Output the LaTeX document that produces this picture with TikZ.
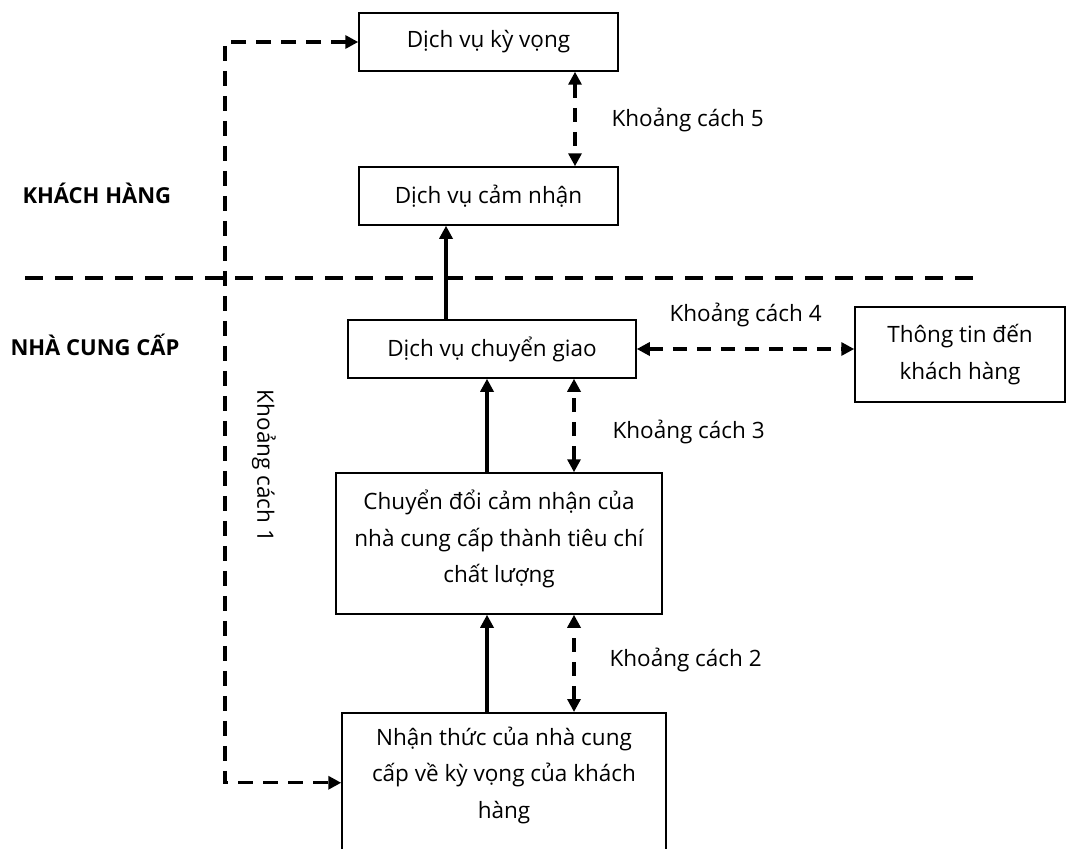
\documentclass[tikz,border=0pt]{standalone}
\usepackage{fontspec}
\setmainfont{Open Sans}
\usetikzlibrary{arrows.meta}

\begin{document}
\begin{tikzpicture}[x=1pt, y=-1pt, >={Triangle[length=13pt,width=13pt]},
    font=\fontsize{22.5}{36.5}\selectfont]
    \tikzstyle{box}=[draw=black, line width=1.5pt, align=center, inner sep=0pt]
    \tikzstyle{flow}=[->, line width=3.2pt]
    \tikzstyle{gapline}=[<->, line width=3.2pt, dash pattern=on 14pt off 10pt]
    \tikzstyle{loopline}=[gapline, line width=3.4pt, dash pattern=on 15pt off 10pt]
    \tikzstyle{separator}=[line width=4.6pt, dash pattern=on 18pt off 12pt]
    \tikzstyle{side label}=[anchor=west, font=\fontsize{22}{26}\selectfont\bfseries]
    \tikzstyle{gap label}=[anchor=west]

    \useasboundingbox (0,0) rectangle (1067,848);

    % Draw the customer side boxes
    \node[box, minimum width=259, minimum height=58] (expected) at (488.5,42) {Dịch vụ kỳ vọng};
    \node[box, minimum width=259, minimum height=58] (perceived) at (488.5,196) {Dịch vụ cảm nhận};

    % Draw the provider side boxes
    \node[box, minimum width=288, minimum height=58] (delivered) at (492,349) {Dịch vụ chuyển giao};
    \node[box, minimum width=210, minimum height=95] (info) at (960,354.5) {Thông tin đến\\khách hàng};
    \node[box, minimum width=326, minimum height=141] (translate) at (499,543.5)
        {Chuyển đổi cảm nhận của\\nhà cung cấp thành tiêu chí\\chất lượng\\[-22pt]};
    \node[box, minimum width=324, minimum height=140, anchor=north] (perception) at (504,712) {};
    \node[align=center] (perception-text) at (504,775)
        {Nhận thức của nhà cung\\cấp về kỳ vọng của khách\\hàng};

    % Draw the two sides and the line between them
    \node[side label] (customer) at (19,193) {KHÁCH HÀNG};
    \node[side label] (provider) at (7,345) {NHÀ CUNG CẤP};
    \coordinate (sep-L) at (25,278);
    \coordinate (sep-R) at (980,278);
    \draw[separator] (sep-L) -- (sep-R);

    % Draw the gap labels
    \foreach \n / \x / \y in {5/608/120, 4/666/315, 3/609/432, 2/606/660}
        \node[gap label] (K-\n) at (\x,\y) {Khoảng cách \n};
    \node[rotate=-90] (K-1) at (264,466) {Khoảng cách 1};

    % Gap 1 runs round the left side
    \coordinate (loop) at (225,400);
    \draw[loopline] (expected.west) -| (loop) |- (perception.west);

    % Connect every box with the one above it
    \draw[flow] ([xshift=-46pt]delivered.north) -- ([xshift=-46pt]delivered.north |- perceived.south);
    \draw[flow] ([xshift=-12pt]translate.north) -- ([xshift=-12pt]translate.north |- delivered.south);
    \draw[flow] ([xshift=-17pt]perception.north) -- ([xshift=-17pt]perception.north |- translate.south);

    % Draw the dashed gaps
    \draw[gapline] ([xshift=86.5pt]expected.south) -- ([xshift=86.5pt]expected.south |- perceived.north);
    \draw[gapline] (delivered.east) -- (info.west |- delivered.east);
    \draw[gapline] ([xshift=75pt]translate.north) -- ([xshift=75pt]translate.north |- delivered.south);
    \draw[gapline] ([xshift=70pt]perception.north) -- ([xshift=70pt]perception.north |- translate.south);

\end{tikzpicture}
\end{document}
